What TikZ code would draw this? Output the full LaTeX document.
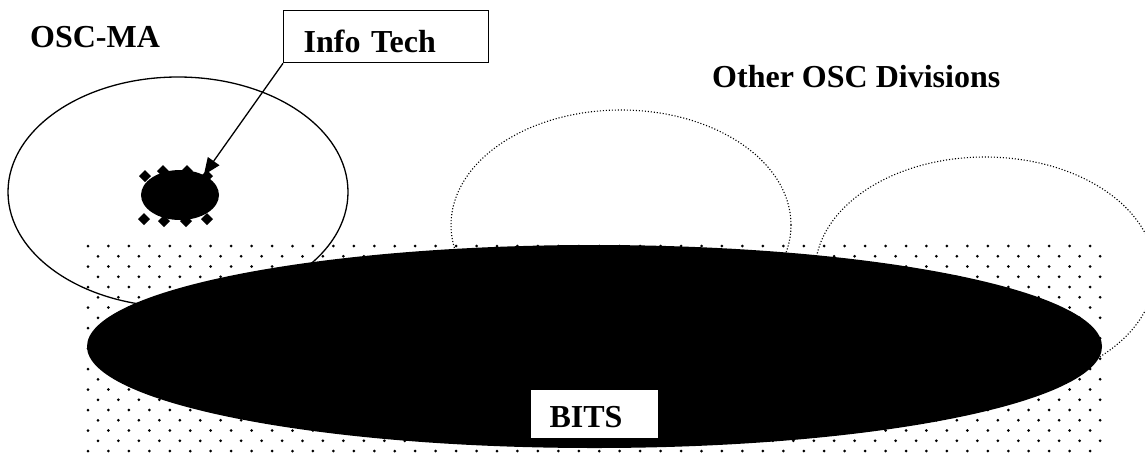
\documentclass[tikz,border=0pt]{standalone}
\usepackage{fontspec}
\setmainfont{Liberation Serif}
\usetikzlibrary{positioning}
\usetikzlibrary{shapes.geometric}
\usetikzlibrary{arrows.meta}

\begin{document}
\begin{tikzpicture}[x=1pt,y=-1pt,
    oscunit/.style={ellipse, draw=black, line width=1.3pt, inner sep=0pt, minimum width=340pt, minimum height=230pt},
    division/.style={oscunit, line width=1.1pt, dash pattern=on 1.1pt off 1.9pt},
    namebox/.style={draw=black, line width=1.3pt, fill=white, font=\bfseries\fontsize{32}{38}\selectfont, align=left, text depth=0pt},
    grouplabel/.style={font=\bfseries\fontsize{32}{38}\selectfont, inner sep=0pt},
    pointer/.style={line width=1.3pt, -{Triangle[length=17pt,width=14pt]}},
  ]
  \useasboundingbox (0,0) rectangle (1145,456);

  % dotted band behind everything
  \fill[black]
    \foreach \j in {0,...,20}{
      \foreach \i in {0,...,49}{
        ({88+10*mod(\j,2)+20.45*\i}, {246+10.25*\j}) circle[radius=1.5pt]
      }
    };

  \node[oscunit] (oscma) at (178,192) {};
  \node[division] (divone) at (621,225) {};
  \node[division] (divtwo) at (985,272) {};

  % info tech blob with its handles
  \node[ellipse, fill=black, inner sep=0pt, minimum width=78pt, minimum height=50pt] (itblob) at (180,195) {};
  \foreach \hx/\hy in {145/176, 163/171, 187/171, 207/176, 144/219, 164/221, 186/221, 207/219}
    \fill (\hx,\hy) +(-6,0) -- +(0,-6) -- +(6,0) -- +(0,6) -- cycle;

  \node[ellipse, fill=black, inner sep=0pt, minimum width=1015pt, minimum height=203pt] (bitsarea) at (594.5,346.5) {};
  \node[namebox, above=9pt of bitsarea.south, inner xsep=19pt, inner ysep=11pt, text width=90pt, text height=27pt] (bits) {BITS};

  \node[namebox, anchor=north west, inner xsep=20pt, inner ysep=10pt, text width=165pt, text height=32pt] (itbox) at (283,10) {Info Tech};
  \node[grouplabel, anchor=base west] (oscmalabel) at (30,47) {OSC-MA};
  \node[grouplabel, anchor=base west] (otherlabel) at (712,87) {Other OSC Divisions};

  \draw[pointer] (itbox.south west) -- (itblob.40);
\end{tikzpicture}
\end{document}
